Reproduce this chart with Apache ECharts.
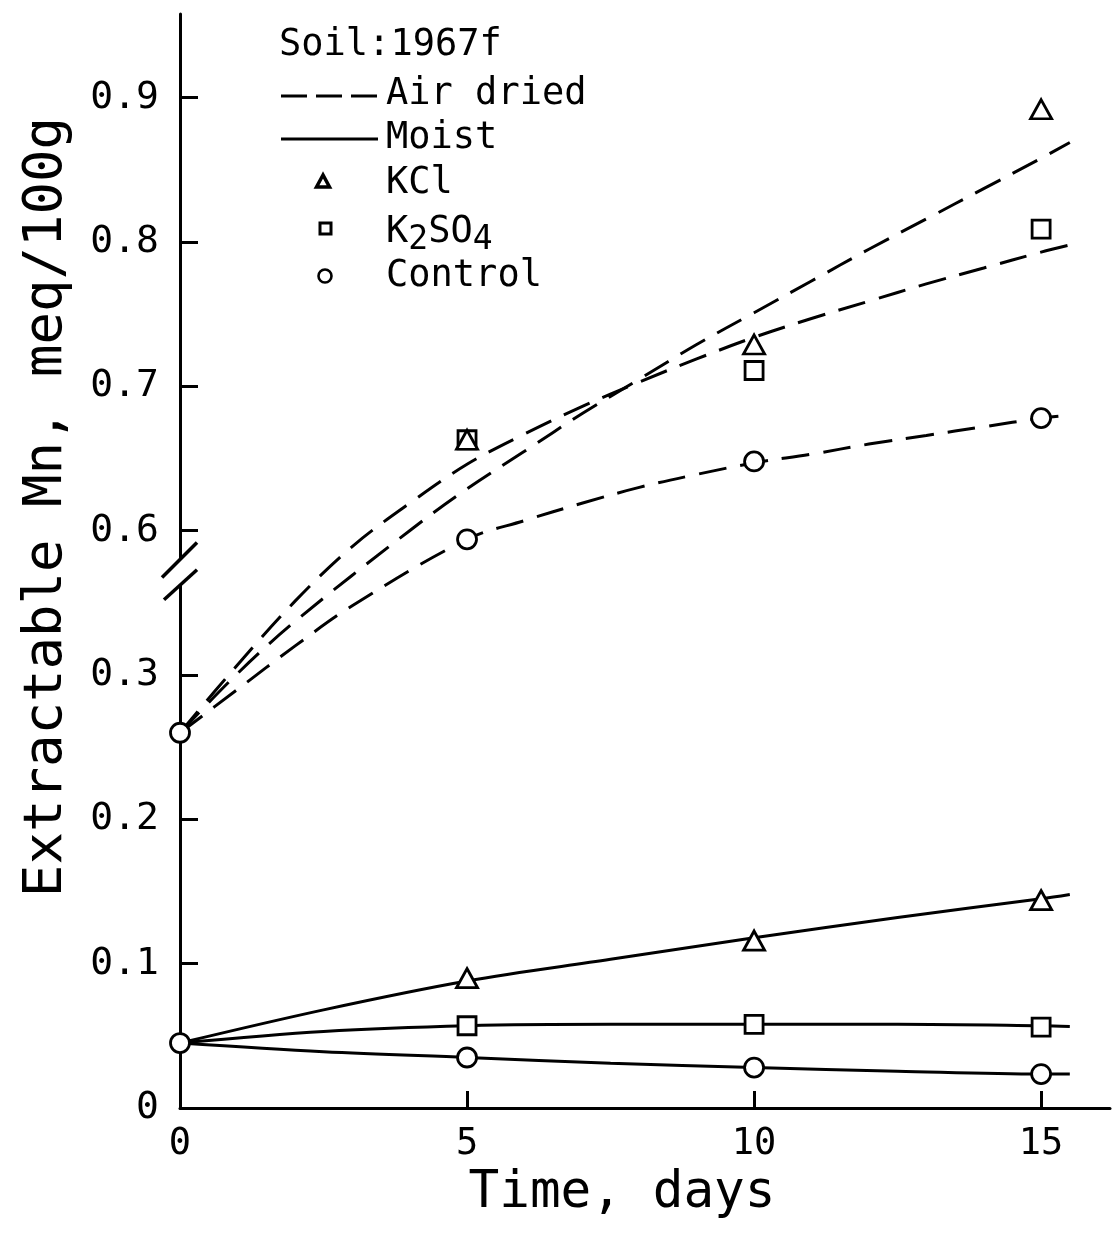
<!DOCTYPE html>
<html>
<head>
<meta charset="utf-8">
<script src="https://cdn.jsdelivr.net/npm/echarts@6/dist/echarts.min.js"></script>
<style>
  html, body { margin: 0; padding: 0; background: #fff; }
  #chart { width: 1113px; height: 1235px; }
</style>
</head>
<body>
<div id="chart"></div>
<script>
// ---------------- DATA ----------------
// Axis ticks
const xTickValues = [0, 5, 10, 15];
const yTickValues = [0, 0.1, 0.2, 0.3, 0.6, 0.7, 0.8, 0.9];

// Axis break: values between BREAK_LO and BREAK_HI are squeezed
const BREAK_LO = 0.36;
const BREAK_HI = 0.58;

// Air-dried fitted curves (dashed), sampled along the drawn curve
const airCurveDays = [0, 1, 2, 3, 4, 5, 6, 7, 8, 9, 10, 11, 12, 13, 14, 15, 15.5];
const airKclCurve = [0.26, 0.301, 0.337, null, 0.600, 0.629, 0.655, 0.681, 0.705, 0.729, 0.751, 0.773, 0.795, 0.816, 0.837, 0.858, 0.869];
const airK2so4Curve = [0.26, 0.307, 0.351, 0.589, 0.619, 0.646, 0.667, 0.686, 0.703, 0.719, 0.734, 0.747, 0.759, 0.771, 0.782, 0.793, 0.798];
const airControlCurve = [0.26, 0.290, 0.320, 0.348, null, 0.594, 0.607, 0.619, 0.630, 0.639, 0.647, 0.653, 0.660, 0.666, 0.672, 0.678, 0.680];

// Moist fitted curves (solid)
const moistCurveDays = [0, 2.5, 5, 7.5, 10, 12.5, 15, 15.5];
const moistKclCurve = [0.045, 0.068, 0.088, 0.103, 0.118, 0.132, 0.145, 0.148];
const moistK2so4Curve = [0.045, 0.053, 0.057, 0.058, 0.058, 0.058, 0.057, 0.0565];
const moistControlCurve = [0.045, 0.039, 0.035, 0.031, 0.028, 0.0255, 0.0235, 0.0235];

// Measured points
const pointDays = [5, 10, 15];
const controlDays = [0, 5, 10, 15];
const airKclPts = [0.663, 0.729, 0.892];
const airK2so4Pts = [0.663, 0.711, 0.809];
const airControlPts = [0.26, 0.594, 0.648, 0.678];
const moistKclPts = [0.090, 0.116, 0.144];
const moistK2so4Pts = [0.057, 0.058, 0.056];
const moistControlPts = [0.045, 0.035, 0.028, 0.0235];

// ---------------- HELPERS ----------------
function toDisplay(v) {
  if (v == null) return null;
  if (v <= BREAK_LO) return v;
  if (v >= BREAK_HI) return v - 0.2;
  return BREAK_LO + (v - BREAK_LO) * ((BREAK_HI - 0.2 - BREAK_LO) / (BREAK_HI - BREAK_LO));
}
function fromDisplay(d) {
  return d <= BREAK_LO + 1e-9 ? d : d + 0.2;
}
function pairs(xs, ys) {
  return xs.map((x, i) => [x, toDisplay(ys[i])]);
}

const FONT = '"DejaVu Sans Mono", monospace';
const INK = '#000';

const dashed = { color: INK, width: 3, type: [28, 14], opacity: 1 };
const solid = { color: INK, width: 3, type: 'solid', opacity: 1 };
const markerStyle = { color: '#fff', borderColor: INK, borderWidth: 2.8, opacity: 1 };

function curve(name, xs, ys, style) {
  return {
    name, type: 'line', data: pairs(xs, ys), smooth: 0.35, connectNulls: true,
    showSymbol: false, symbol: 'none', lineStyle: style, z: 2, silent: true
  };
}
function points(name, xs, ys, symbol, size, z) {
  return {
    name, type: 'scatter', data: pairs(xs, ys), symbol, symbolSize: size,
    itemStyle: markerStyle, z: z, silent: true
  };
}

const chart = echarts.init(document.getElementById('chart'), null, { renderer: 'canvas' });

const option = {
  animation: false,
  backgroundColor: '#fff',
  grid: { left: 180, right: 3, top: 14, bottom: 127, containLabel: false, outerBoundsMode: 'none' },
  xAxis: {
    type: 'value', min: 0, max: 16.2,
    name: 'Time, days', nameLocation: 'middle', nameGap: 53,
    nameTextStyle: { fontFamily: FONT, fontSize: 51, color: INK, padding: [0, 46, 0, 0] },
    axisLine: { show: true, onZero: false, lineStyle: { color: INK, width: 3 } },
    axisTick: { show: true, inside: true, length: 17, lineStyle: { color: INK, width: 3 },
      customValues: xTickValues.filter(v => v > 0) },
    axisLabel: { fontFamily: FONT, fontSize: 37, color: INK, margin: 18,
      customValues: xTickValues, formatter: v => String(Math.round(v)) },
    splitLine: { show: false }
  },
  yAxis: {
    type: 'value', min: 0, max: 0.758,
    name: 'Extractable Mn, meq/100g', nameLocation: 'middle', nameGap: 106, nameRotate: 90,
    nameTextStyle: { fontFamily: FONT, fontSize: 54, color: INK, padding: [0, 0, 0, 108] },
    axisLine: { show: true, onZero: false, lineStyle: { color: INK, width: 3 } },
    axisTick: { show: true, inside: true, length: 18, lineStyle: { color: INK, width: 3 },
      customValues: yTickValues.filter(v => v > 0).map(toDisplay) },
    axisLabel: { fontFamily: FONT, fontSize: 38, color: INK, margin: 21,
      customValues: yTickValues.map(toDisplay),
      formatter: d => { const v = fromDisplay(d); return v < 1e-6 ? '0' : v.toFixed(1); } },
    splitLine: { show: false }
  },
  series: [
    curve('Air dried KCl', airCurveDays, airKclCurve, dashed),
    curve('Air dried K2SO4', airCurveDays, airK2so4Curve, dashed),
    curve('Air dried Control', airCurveDays, airControlCurve, dashed),
    curve('Moist KCl', moistCurveDays, moistKclCurve, solid),
    curve('Moist K2SO4', moistCurveDays, moistK2so4Curve, solid),
    curve('Moist Control', moistCurveDays, moistControlCurve, solid),
    points('K2SO4 air', pointDays, airK2so4Pts, 'rect', [18, 18], 5),
    points('KCl air', pointDays, airKclPts, 'triangle', [21, 19], 6),
    points('Control air', controlDays, airControlPts, 'circle', 19, 5),
    points('K2SO4 moist', pointDays, moistK2so4Pts, 'rect', [18, 18], 5),
    points('KCl moist', pointDays, moistKclPts, 'triangle', [21, 19], 6),
    points('Control moist', controlDays, moistControlPts, 'circle', 19, 5)
  ]
};
chart.setOption(option);

// ---------- Legend block and axis-break marks ----------
const x0 = chart.convertToPixel({ xAxisIndex: 0 }, 0);
const yGapTop = chart.convertToPixel({ yAxisIndex: 0 }, 0.380);
const yGapBot = chart.convertToPixel({ yAxisIndex: 0 }, 0.3625);

const txt = (text, x, y, extra) => ({
  type: 'text', x, y, z: 50, silent: true,
  style: Object.assign({ text, fontFamily: FONT, fontSize: 37, fill: INK, verticalAlign: 'middle', align: 'left' }, extra || {})
});

const graphic = [
  // axis break
  { type: 'rect', z: 100, silent: true, shape: { x: x0 - 6, y: yGapTop, width: 12, height: yGapBot - yGapTop }, style: { fill: '#fff' } },
  { type: 'line', z: 101, silent: true, shape: { x1: x0 - 18, y1: yGapTop + 18, x2: x0 + 17, y2: yGapTop - 17 }, style: { stroke: INK, lineWidth: 3.5 } },
  { type: 'line', z: 101, silent: true, shape: { x1: x0 - 16, y1: yGapBot + 15, x2: x0 + 17, y2: yGapBot - 15 }, style: { stroke: INK, lineWidth: 3.5 } },
  // legend
  txt('Soil:1967f', 279, 45),
  { type: 'line', z: 50, silent: true, shape: { x1: 281, y1: 96, x2: 378, y2: 96 }, style: { stroke: INK, lineWidth: 3, lineDash: [26, 9] } },
  txt('Air dried', 386, 94),
  { type: 'line', z: 50, silent: true, shape: { x1: 281, y1: 139, x2: 378, y2: 139 }, style: { stroke: INK, lineWidth: 3 } },
  txt('Moist', 386, 138),
  { type: 'polygon', z: 50, silent: true, shape: { points: [[323, 175], [316.5, 187], [329.5, 187]] }, style: { fill: '#fff', stroke: INK, lineWidth: 3.5 } },
  txt('KCl', 386, 183),
  { type: 'rect', z: 50, silent: true, shape: { x: 320, y: 223, width: 11, height: 11 }, style: { fill: '#fff', stroke: INK, lineWidth: 3 } },
  { type: 'text', x: 386, y: 232, z: 50, silent: true,
    style: { text: '{a|K}{s|2}{a|SO}{s|4}', fontFamily: FONT, fill: INK, verticalAlign: 'middle', align: 'left',
      rich: {
        a: { fontFamily: FONT, fontSize: 37, fill: INK, lineHeight: 50, verticalAlign: 'middle' },
        s: { fontFamily: FONT, fontSize: 33, fill: INK, lineHeight: 24, verticalAlign: 'bottom' }
      } } },
  { type: 'circle', z: 50, silent: true, shape: { cx: 325, cy: 276, r: 6.5 }, style: { fill: '#fff', stroke: INK, lineWidth: 2.6 } },
  txt('Control', 386, 276)
];
chart.setOption({ graphic });
</script>
</body>
</html>
